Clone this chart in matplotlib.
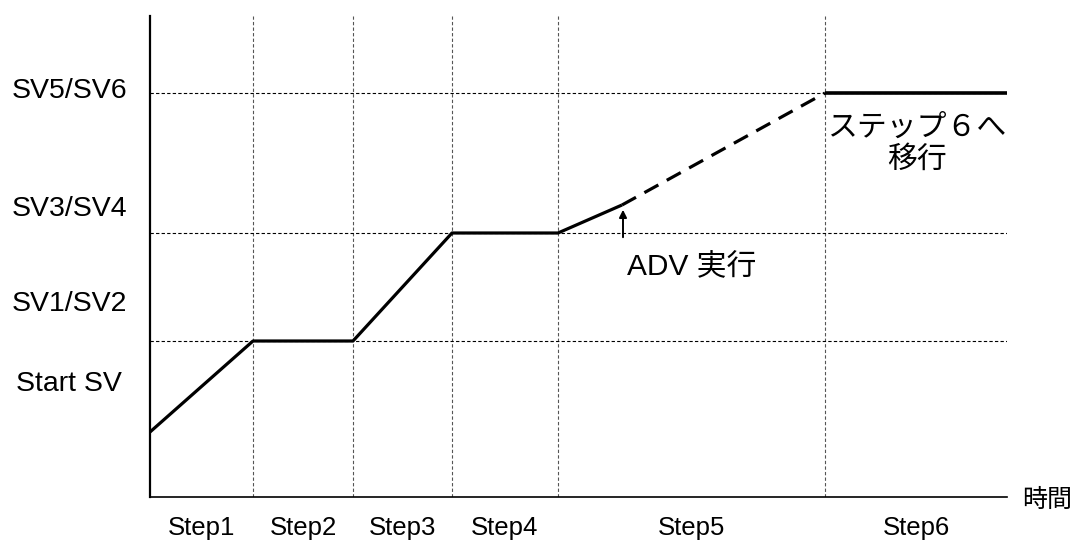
import matplotlib
matplotlib.use('Agg')
import matplotlib.pyplot as plt

plt.rcParams['font.family'] = ['Liberation Sans', 'Noto Sans CJK JP']

# step boundaries along the time axis
step_edges = [0, 1.03, 2.03, 3.02, 4.08, 6.75, 8.57]
step_names = ['Step1', 'Step2', 'Step3', 'Step4', 'Step5', 'Step6']

# set value levels
sv_levels = [0.65, 1.56, 2.64, 4.04]
sv_names = ['Start SV', 'SV1/SV2', 'SV3/SV4', 'SV5/SV6']
sv_label_y = [1.13, 1.93, 2.88, 4.06]

# profile
prof_x = [0, 1.03, 2.03, 3.02, 4.08, 4.72]
prof_y = [0.65, 1.56, 1.56, 2.64, 2.64, 2.92]
skip_x = [4.72, 6.75]
skip_y = [2.92, 4.04]
next_x = [6.75, 8.57]
next_y = [4.04, 4.04]

fig = plt.figure(figsize=(10.74, 5.43), dpi=100)
ax = fig.add_axes([150/1074, 46/543, 857/1074, 481/543])
ax.set_xlim(0, 8.57)
ax.set_ylim(0, 4.81)

# grid
for x in step_edges[1:-1]:
    ax.plot([x, x], [0, 4.81], color='#555555', lw=0.8, ls=(0, (3, 2)))
for y in sv_levels[1:]:
    ax.plot([0, 8.57], [y, y], color='black', lw=0.8, ls=(0, (3, 2)))

ax.plot(prof_x, prof_y, color='black', lw=2.3, solid_capstyle='butt')
ax.plot(skip_x, skip_y, color='black', lw=2.3, ls=(0, (5, 3)))
ax.plot(next_x, next_y, color='black', lw=2.6, solid_capstyle='butt')

ax.annotate('', xy=(4.73, 2.90), xytext=(4.73, 2.57),
            arrowprops=dict(arrowstyle='-|>', color='black', lw=1.4, mutation_scale=11))
ax.text(5.42, 2.30, 'ADV 実行', fontsize=21.5, ha='center', va='center')
ax.text(7.67, 3.53, 'ステップ６へ\n移行', fontsize=21.5, ha='center', va='center', linespacing=1.2)

for name, y in zip(sv_names, sv_label_y):
    ax.text(-0.81, y, name, fontsize=20.5, ha='center', va='center', clip_on=False)

for i, name in enumerate(step_names):
    xc = (step_edges[i] + step_edges[i + 1]) / 2
    ax.text(xc, -0.31, name, fontsize=18.5, ha='center', va='center', clip_on=False)

ax.text(8.97, -0.03, '時間', fontsize=18, ha='center', va='center', clip_on=False)

for s in ['top', 'right']:
    ax.spines[s].set_visible(False)
ax.spines['left'].set_linewidth(1.6)
ax.spines['bottom'].set_linewidth(1.2)
ax.set_xticks([])
ax.set_yticks([])

fig.savefig('out.png', dpi=100)
